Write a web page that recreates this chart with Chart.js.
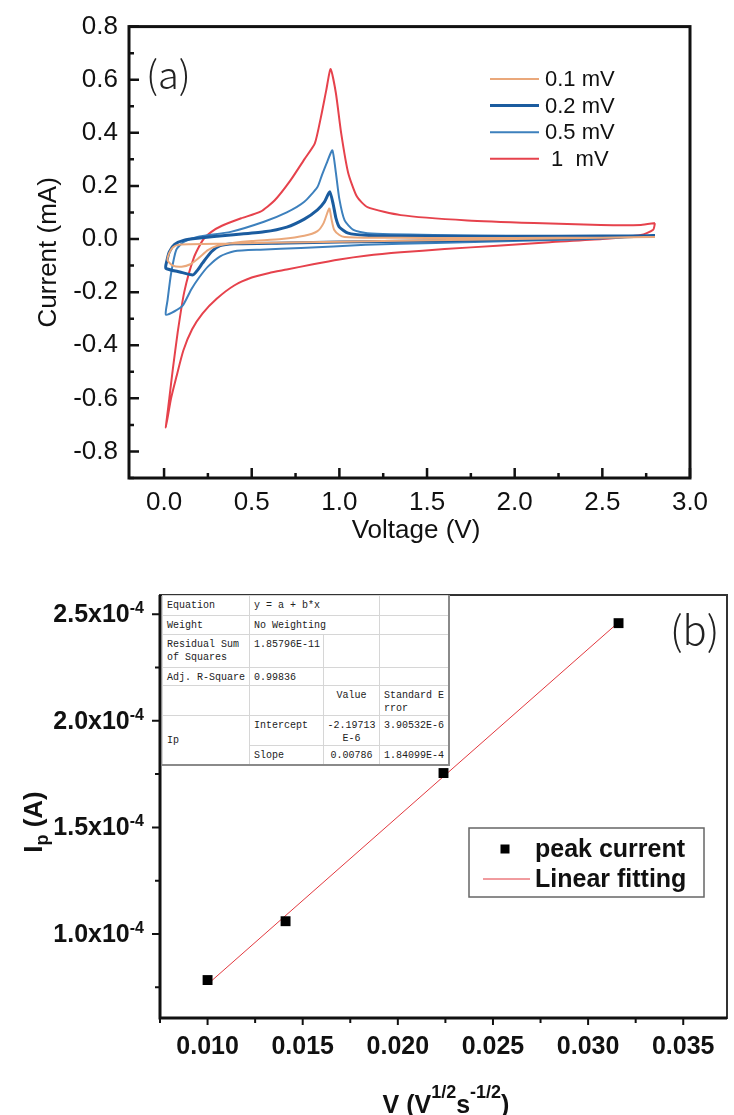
<!DOCTYPE html>
<html lang="en">
<head>
<meta charset="UTF-8">
<title>CV curves and peak current fit</title>
<style>
    body { margin: 0; background: #fff; }
    .page { position: relative; width: 734px; height: 1115px; overflow: hidden; background: #fff; }
    #cvCanvas { position: absolute; left: 0; top: 0; }
    #fitCanvas { position: absolute; left: 0; top: 560px; }
    #fitTable {
        position: absolute; left: 162px; top: 595px; width: 286px;
        border-collapse: collapse; table-layout: fixed; background: #fff;
        font: 10px/13px "Liberation Mono", "DejaVu Sans Mono", monospace; color: #222;
        border: 1px solid #999; border-right: 2px solid #8a8a8a; border-bottom: 2px solid #8a8a8a;
    }
    #fitTable td {
        border: 1px solid #d6d6d6; padding: 3px 0 0 4px; vertical-align: top;
        white-space: nowrap; overflow: hidden;
    }
    #fitTable td.c { text-align: center; padding-left: 0; }
    #fitTable td.mid { vertical-align: middle; padding-top: 0; }
</style>
<script src="https://cdn.jsdelivr.net/npm/chart.js"></script>
</head>
<body>
<div class="page">
    <canvas id="cvCanvas" width="734" height="560"></canvas>
    <canvas id="fitCanvas" width="734" height="555"></canvas>
    <table id="fitTable">
        <colgroup><col style="width:87px"><col style="width:74px"><col style="width:56px"><col style="width:69px"></colgroup>
        <tr><td style="height:16px">Equation</td><td colspan="2">y = a + b*x</td><td></td></tr>
        <tr><td style="height:15px">Weight</td><td colspan="2">No Weighting</td><td></td></tr>
        <tr><td style="height:29px">Residual Sum<br>of Squares</td><td>1.85796E-11</td><td></td><td></td></tr>
        <tr><td style="height:14px">Adj. R-Square</td><td>0.99836</td><td></td><td></td></tr>
        <tr><td style="height:26px"></td><td></td><td class="c">Value</td><td>Standard E<br>rror</td></tr>
        <tr><td rowspan="2" class="mid">Ip</td><td style="height:26px">Intercept</td><td class="c">-2.19713<br>E-6</td><td>3.90532E-6</td></tr>
        <tr><td style="height:15px">Slope</td><td class="c">0.00786</td><td>1.84099E-4</td></tr>
    </table>
</div>

<script>
    const FONT = '"Liberation Sans", Arial, sans-serif';
    Chart.defaults.font.family = FONT;

    // (a) cyclic voltammetry, one closed loop per scan rate
    const scanLabels = ['0.1 mV', '0.2 mV', '0.5 mV', ' 1  mV'];
    const scanColors = ['#eaa87b', '#1b5c9f', '#3d80bd', '#e6424c'];
    const scanWidths = [2, 3, 2, 2];

    const volt01 = [2.80, 2.40, 2.00, 1.50, 1.00, 0.60, 0.30, 0.15, 0.08, 0.05, 0.03, 0.02, 0.05, 0.10, 0.15, 0.20, 0.25, 0.30, 0.40, 0.50, 0.67, 0.80, 0.875, 0.91, 0.942, 0.955, 0.97, 1.00, 1.03, 1.20, 1.50, 2.00, 2.50, 2.80];
    const curr01 = [0.008, 0.004, 0.000, -0.005, -0.010, -0.014, -0.018, -0.020, -0.022, -0.032, -0.052, -0.080, -0.100, -0.104, -0.095, -0.070, -0.042, -0.026, -0.014, -0.007, 0.000, 0.012, 0.030, 0.060, 0.115, 0.075, 0.035, 0.015, 0.008, 0.005, 0.004, 0.004, 0.005, 0.008];

    const volt02 = [2.80, 2.40, 2.00, 1.50, 1.00, 0.70, 0.40, 0.32, 0.27, 0.22, 0.19, 0.165, 0.09, 0.01, 0.015, 0.03, 0.06, 0.115, 0.19, 0.38, 0.57, 0.70, 0.80, 0.875, 0.915, 0.945, 0.965, 0.98, 1.00, 1.05, 1.15, 1.40, 2.00, 2.50, 2.80];
    const curr02 = [0.012, 0.004, -0.002, -0.007, -0.011, -0.015, -0.018, -0.025, -0.048, -0.090, -0.118, -0.135, -0.124, -0.110, -0.085, -0.048, -0.020, -0.004, 0.003, 0.015, 0.027, 0.045, 0.075, 0.110, 0.140, 0.178, 0.130, 0.080, 0.045, 0.022, 0.014, 0.011, 0.010, 0.011, 0.012];

    const volt05 = [2.80, 2.50, 2.10, 1.55, 1.15, 0.78, 0.55, 0.40, 0.32, 0.25, 0.20, 0.155, 0.107, 0.06, 0.01, 0.02, 0.04, 0.07, 0.115, 0.19, 0.38, 0.57, 0.70, 0.80, 0.875, 0.90, 0.93, 0.96, 0.98, 1.00, 1.03, 1.08, 1.16, 1.54, 2.10, 2.68, 2.80];
    const curr05 = [0.014, 0.002, -0.006, -0.015, -0.022, -0.034, -0.040, -0.046, -0.065, -0.104, -0.145, -0.190, -0.250, -0.272, -0.285, -0.230, -0.130, -0.040, -0.010, 0.008, 0.027, 0.065, 0.100, 0.140, 0.196, 0.240, 0.290, 0.334, 0.250, 0.150, 0.070, 0.034, 0.022, 0.015, 0.010, 0.009, 0.014];

    const volt1 = [2.80, 2.79, 2.72, 2.50, 2.20, 1.90, 1.60, 1.35, 1.15, 1.00, 0.85, 0.70, 0.60, 0.50, 0.40, 0.30, 0.22, 0.16, 0.11, 0.07, 0.04, 0.01, 0.03, 0.05, 0.078, 0.115, 0.17, 0.22, 0.27, 0.33, 0.44, 0.55, 0.63, 0.72, 0.80, 0.86, 0.895, 0.925, 0.95, 0.98, 1.01, 1.05, 1.10, 1.16, 1.35, 1.73, 2.11, 2.49, 2.72, 2.80];
    const curr1 = [0.060, 0.035, 0.015, 0.000, -0.012, -0.025, -0.038, -0.050, -0.063, -0.077, -0.095, -0.115, -0.128, -0.145, -0.175, -0.225, -0.280, -0.340, -0.420, -0.520, -0.600, -0.710, -0.600, -0.490, -0.350, -0.200, -0.070, -0.005, 0.027, 0.050, 0.078, 0.103, 0.145, 0.220, 0.300, 0.360, 0.460, 0.560, 0.640, 0.550, 0.400, 0.250, 0.160, 0.120, 0.090, 0.070, 0.060, 0.053, 0.053, 0.060];

    const cvXTicks = [0, 0.5, 1.0, 1.5, 2.0, 2.5, 3.0];
    const cvYTicks = [-0.8, -0.6, -0.4, -0.2, 0, 0.2, 0.4, 0.6, 0.8];

    // (b) peak current vs square root of scan rate
    const sqrtRate = [0.0100, 0.0141, 0.0224, 0.0316];
    const peakCurrent = [0.784e-4, 1.06e-4, 1.755e-4, 2.458e-4];
    const fitX = [0.0100, 0.0316];
    const fitY = [0.764e-4, 2.462e-4];
    const ipXTicks = [0.010, 0.015, 0.020, 0.025, 0.030, 0.035];
    const ipYTicks = [1.0e-4, 1.5e-4, 2.0e-4, 2.5e-4];

    function toPoints(xs, ys) {
        return xs.map((x, i) => ({ x: x, y: ys[i] }));
    }

    function minorTicks(major, min, max) {
        const step = major[1] - major[0];
        const out = [];
        for (let k = -1; k < major.length; k++) {
            const v = major[0] + step * (k + 0.5);
            if (v >= min - 1e-12 && v <= max + 1e-12) out.push(v);
        }
        return out;
    }

    const cvSeries = [[volt01, curr01], [volt02, curr02], [volt05, curr05], [volt1, curr1]];

    const cvDecor = {
        id: 'cvDecor',
        afterDraw(chart) {
            const { ctx, chartArea: a, scales: { x, y } } = chart;
            ctx.save();
            // frame
            ctx.strokeStyle = '#111';
            ctx.lineWidth = 3;
            ctx.strokeRect(a.left, a.top, a.right - a.left, a.bottom - a.top);
            // inward ticks
            ctx.lineWidth = 2.5;
            ctx.beginPath();
            cvXTicks.forEach(v => { const p = x.getPixelForValue(v); ctx.moveTo(p, a.bottom); ctx.lineTo(p, a.bottom - 10); });
            minorTicks(cvXTicks, x.min, x.max).forEach(v => { const p = x.getPixelForValue(v); ctx.moveTo(p, a.bottom); ctx.lineTo(p, a.bottom - 5); });
            cvYTicks.forEach(v => { const p = y.getPixelForValue(v); ctx.moveTo(a.left, p); ctx.lineTo(a.left + 10, p); });
            minorTicks(cvYTicks, y.min, y.max).forEach(v => { const p = y.getPixelForValue(v); ctx.moveTo(a.left, p); ctx.lineTo(a.left + 5, p); });
            ctx.stroke();

            // axis titles
            ctx.fillStyle = '#111';
            ctx.font = '26px ' + FONT;
            ctx.textAlign = 'center';
            ctx.textBaseline = 'middle';
            ctx.fillText('Voltage (V)', 416, 531);
            ctx.save();
            ctx.translate(49, (a.top + a.bottom) / 2);
            ctx.rotate(-Math.PI / 2);
            ctx.fillText('Current (mA)', 0, 0);
            ctx.restore();

            // panel label
            ctx.textAlign = 'left';
            ctx.font = '300 38px "Noto Sans CJK SC", "Noto Sans", ' + FONT;
            ctx.fillStyle = '#222';
            ctx.fillText('(a)', 146, 75);

            // legend
            ctx.font = '22px ' + FONT;
            ctx.fillStyle = '#111';
            chart.data.datasets.forEach((ds, i) => {
                const ly = 79 + i * 26.6;
                ctx.strokeStyle = ds.borderColor;
                ctx.lineWidth = ds.borderWidth;
                ctx.beginPath();
                ctx.moveTo(490, ly);
                ctx.lineTo(539, ly);
                ctx.stroke();
                ctx.fillText(ds.label, 545, ly + 1);
            });
            ctx.restore();
        }
    };

    new Chart(document.getElementById('cvCanvas'), {
        type: 'scatter',
        data: {
            datasets: cvSeries.map((s, i) => ({
                label: scanLabels[i],
                data: toPoints(s[0], s[1]),
                showLine: true,
                borderColor: scanColors[i],
                borderWidth: scanWidths[i],
                pointRadius: 0,
                tension: 0.2
            }))
        },
        options: {
            responsive: false,
            animation: false,
            layout: { padding: { top: 26, right: 44, left: 0, bottom: 0 } },
            plugins: { legend: { display: false }, tooltip: { enabled: false } },
            scales: {
                x: {
                    type: 'linear', min: -0.2, max: 3.0,
                    grid: { display: false, drawTicks: false },
                    border: { display: false },
                    afterBuildTicks: s => { s.ticks = cvXTicks.map(v => ({ value: v })); },
                    afterFit: s => { s.height = 82; },
                    ticks: { autoSkip: false, maxRotation: 0, padding: 9, color: '#111', font: { size: 26 }, callback: v => v.toFixed(1) }
                },
                y: {
                    type: 'linear', min: -0.9, max: 0.8,
                    grid: { display: false, drawTicks: false },
                    border: { display: false },
                    afterBuildTicks: s => { s.ticks = cvYTicks.map(v => ({ value: v })); },
                    afterFit: s => { s.width = 129; },
                    ticks: { autoSkip: false, padding: 11, color: '#111', font: { size: 26 }, callback: v => v.toFixed(1) }
                }
            }
        },
        plugins: [cvDecor]
    });

    const ipDecor = {
        id: 'ipDecor',
        afterDraw(chart) {
            const { ctx, chartArea: a, scales: { x, y } } = chart;
            ctx.save();
            // frame: thin top/right, heavy left/bottom axes
            ctx.strokeStyle = '#333';
            ctx.lineWidth = 2;
            ctx.strokeRect(a.left, a.top, a.right - a.left, a.bottom - a.top);
            ctx.strokeStyle = '#111';
            ctx.lineWidth = 3;
            ctx.beginPath();
            ctx.moveTo(a.left, a.top);
            ctx.lineTo(a.left, a.bottom);
            ctx.lineTo(a.right, a.bottom);
            ctx.stroke();
            // outward ticks
            ctx.lineWidth = 2;
            ctx.beginPath();
            ipXTicks.forEach(v => { const p = x.getPixelForValue(v); ctx.moveTo(p, a.bottom); ctx.lineTo(p, a.bottom + 7); });
            minorTicks(ipXTicks, x.min, x.max).forEach(v => { const p = x.getPixelForValue(v); ctx.moveTo(p, a.bottom); ctx.lineTo(p, a.bottom + 5); });
            ipYTicks.forEach(v => { const p = y.getPixelForValue(v); ctx.moveTo(a.left, p); ctx.lineTo(a.left - 8, p); });
            minorTicks(ipYTicks, y.min, y.max).forEach(v => { const p = y.getPixelForValue(v); ctx.moveTo(a.left, p); ctx.lineTo(a.left - 5, p); });
            ctx.stroke();

            // y tick labels with superscript exponent
            ctx.fillStyle = '#111';
            ctx.textAlign = 'right';
            ipYTicks.forEach(v => {
                const p = y.getPixelForValue(v);
                ctx.font = 'bold 16px ' + FONT;
                ctx.textBaseline = 'alphabetic';
                ctx.fillText('-4', 144, p - 1);
                const w = ctx.measureText('-4').width;
                ctx.font = 'bold 25px ' + FONT;
                ctx.textBaseline = 'middle';
                ctx.fillText((v * 1e4).toFixed(1) + 'x10', 144 - w, p + 1);
            });

            // x title: V (V^1/2 s^-1/2)
            const parts = [['V (V', 25, 0], ['1/2', 18, -15], ['s', 25, 0], ['-1/2', 18, -15], [')', 25, 0]];
            let total = 0;
            parts.forEach(pt => { ctx.font = 'bold ' + pt[1] + 'px ' + FONT; total += ctx.measureText(pt[0]).width; });
            let cx = 446 - total / 2;
            ctx.textAlign = 'left';
            ctx.textBaseline = 'alphabetic';
            parts.forEach(pt => {
                ctx.font = 'bold ' + pt[1] + 'px ' + FONT;
                ctx.fillText(pt[0], cx, 553 + pt[2]);
                cx += ctx.measureText(pt[0]).width;
            });

            // y title: I_p (A)
            ctx.save();
            ctx.translate(42, 262);
            ctx.rotate(-Math.PI / 2);
            const yparts = [['I', 26, 0], ['p', 18, 6], [' (A)', 26, 0]];
            let ylen = 0;
            yparts.forEach(pt => { ctx.font = 'bold ' + pt[1] + 'px ' + FONT; ylen += ctx.measureText(pt[0]).width; });
            let yx = -ylen / 2;
            yparts.forEach(pt => {
                ctx.font = 'bold ' + pt[1] + 'px ' + FONT;
                ctx.fillText(pt[0], yx, pt[2]);
                yx += ctx.measureText(pt[0]).width;
            });
            ctx.restore();

            // panel label
            ctx.font = '300 40px "Noto Sans CJK SC", "Noto Sans", ' + FONT;
            ctx.fillStyle = '#222';
            ctx.textBaseline = 'middle';
            ctx.fillText('(b)', 670, 70);

            // legend box
            ctx.strokeStyle = '#666';
            ctx.lineWidth = 1.5;
            ctx.strokeRect(469, 268, 235, 69);
            const pts = chart.data.datasets[0];
            const fit = chart.data.datasets[1];
            ctx.fillStyle = pts.backgroundColor;
            ctx.fillRect(505 - 4.5, 289 - 4.5, 9, 9);
            ctx.strokeStyle = fit.borderColor;
            ctx.lineWidth = fit.borderWidth;
            ctx.beginPath();
            ctx.moveTo(483, 319);
            ctx.lineTo(530, 319);
            ctx.stroke();
            ctx.fillStyle = '#111';
            ctx.font = 'bold 25px ' + FONT;
            ctx.fillText(pts.label, 535, 290);
            ctx.fillText(fit.label, 535, 320);
            ctx.restore();
        }
    };

    new Chart(document.getElementById('fitCanvas'), {
        type: 'scatter',
        data: {
            datasets: [{
                label: 'peak current',
                data: toPoints(sqrtRate, peakCurrent),
                pointStyle: 'rect',
                pointRadius: 7,
                backgroundColor: '#000',
                borderColor: '#000',
                borderWidth: 0,
                order: 0
            }, {
                label: 'Linear fitting',
                data: toPoints(fitX, fitY),
                showLine: true,
                pointRadius: 0,
                borderColor: '#e2383e',
                borderWidth: 1,
                order: 1
            }]
        },
        options: {
            responsive: false,
            animation: false,
            layout: { padding: { top: 35, right: 4, left: 0, bottom: 0 } },
            plugins: { legend: { display: false }, tooltip: { enabled: false } },
            scales: {
                x: {
                    type: 'linear', min: 0.0075, max: 0.0373,
                    grid: { display: false, drawTicks: false },
                    border: { display: false },
                    afterBuildTicks: s => { s.ticks = ipXTicks.map(v => ({ value: v })); },
                    afterFit: s => { s.height = 97; },
                    ticks: { autoSkip: false, maxRotation: 0, padding: 14, color: '#111', font: { size: 25, weight: 'bold' }, callback: v => v.toFixed(3) }
                },
                y: {
                    type: 'linear', min: 0.606e-4, max: 2.59e-4,
                    grid: { display: false, drawTicks: false },
                    border: { display: false },
                    afterBuildTicks: s => { s.ticks = ipYTicks.map(v => ({ value: v })); },
                    afterFit: s => { s.width = 160; },
                    ticks: { display: false }
                }
            }
        },
        plugins: [ipDecor]
    });
</script>
</body>
</html>
